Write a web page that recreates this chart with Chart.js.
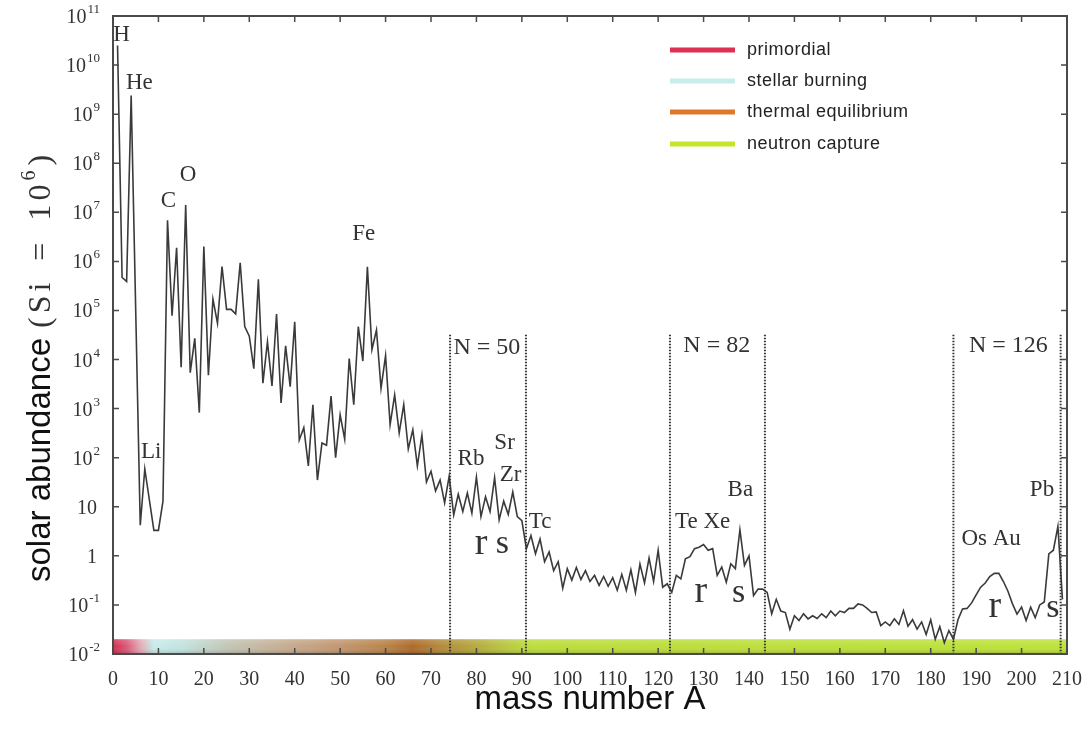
<!DOCTYPE html>
<html>
<head>
<meta charset="utf-8">
<script src="https://cdn.jsdelivr.net/npm/chart.js"></script>
<style>
  body { margin: 0; background: #fff; }
  canvas { display: block; }
</style>
</head>
<body>
<canvas id="myChart" width="1088" height="735"></canvas>
<script>
// mass numbers A (no stable nuclei at A = 5 and A = 8)
var massNumbers = [
  1, 2, 3, 4, 6, 7, 9, 10,
  11, 12, 13, 14, 15, 16, 17, 18, 19, 20,
  21, 22, 23, 24, 25, 26, 27, 28, 29, 30,
  31, 32, 33, 34, 35, 36, 37, 38, 39, 40,
  41, 42, 43, 44, 45, 46, 47, 48, 49, 50,
  51, 52, 53, 54, 55, 56, 57, 58, 59, 60,
  61, 62, 63, 64, 65, 66, 67, 68, 69, 70,
  71, 72, 73, 74, 75, 76, 77, 78, 79, 80,
  81, 82, 83, 84, 85, 86, 87, 88, 89, 90,
  91, 92, 93, 94, 95, 96, 97, 98, 99, 100,
  101, 102, 103, 104, 105, 106, 107, 108, 109, 110,
  111, 112, 113, 114, 115, 116, 117, 118, 119, 120,
  121, 122, 123, 124, 125, 126, 127, 128, 129, 130,
  131, 132, 133, 134, 135, 136, 137, 138, 139, 140,
  141, 142, 143, 144, 145, 146, 147, 148, 149, 150,
  151, 152, 153, 154, 155, 156, 157, 158, 159, 160,
  161, 162, 163, 164, 165, 166, 167, 168, 169, 170,
  171, 172, 173, 174, 175, 176, 177, 178, 179, 180,
  181, 182, 183, 184, 185, 186, 187, 188, 189, 190,
  191, 192, 193, 194, 195, 196, 197, 198, 199, 200,
  201, 202, 203, 204, 205, 206, 207, 208, 209
];

// solar abundance, normalised to Si = 1e6
var abundance = [
  2.5e10, 4.7e5, 3.9e5, 2.4e9, 4.2, 59, 3.3, 3.3,
  13, 6.9e6, 7.8e4, 1.9e6, 7.0e3, 1.4e7, 5.4e3, 2.7e4, 830, 2.0e6,
  4.8e3, 1.7e5, 5.5e4, 7.8e5, 1.05e5, 1.05e5, 8.5e4, 9.4e5, 4.7e4, 3.0e4,
  6.5e3, 4.3e5, 3.3e3, 2.3e4, 2.9e3, 8.5e4, 1.3e3, 1.9e4, 2.8e3, 5.9e4,
  230, 410, 68, 1200, 35, 200, 180, 1800, 100, 750,
  240, 1.05e4, 1200, 4.7e4, 9300, 7.8e5, 1.6e4, 4.0e4, 2600, 1.2e4,
  470, 1900, 320, 1200, 150, 370, 68, 290, 32, 53,
  21, 35, 12, 42, 6.8, 18, 8, 19, 7.4, 40,
  6.3, 16, 8, 39, 5.4, 13, 7, 20, 6.3, 5.2,
  1.4, 2.6, 1.1, 2.2, 0.76, 1.2, 0.5, 0.76, 0.22, 0.55,
  0.32, 0.58, 0.33, 0.5, 0.3, 0.4, 0.25, 0.38, 0.24, 0.36,
  0.2, 0.42, 0.2, 0.52, 0.18, 0.68, 0.28, 0.9, 0.3, 1.3,
  0.23, 0.27, 0.18, 0.40, 0.34, 0.87, 0.96, 1.4, 1.5, 1.7,
  1.3, 1.4, 0.4, 0.59, 0.29, 0.69, 0.55, 3.4, 0.64, 1.0,
  0.155, 0.21, 0.21, 0.18, 0.066, 0.13, 0.075, 0.07, 0.032, 0.06,
  0.048, 0.066, 0.052, 0.06, 0.053, 0.066, 0.055, 0.075, 0.06, 0.075,
  0.07, 0.085, 0.085, 0.105, 0.1, 0.085, 0.07, 0.072, 0.038, 0.045,
  0.038, 0.052, 0.04, 0.076, 0.037, 0.05, 0.032, 0.045, 0.025, 0.05,
  0.02, 0.036, 0.017, 0.03, 0.02, 0.05, 0.083, 0.085, 0.11, 0.16,
  0.23, 0.28, 0.38, 0.44, 0.44, 0.3, 0.19, 0.105, 0.065, 0.09,
  0.048, 0.09, 0.055, 0.1, 0.115, 1.1, 1.3, 4.0, 0.13
];

// axis ticks
var xTicks = [0, 10, 20, 30, 40, 50, 60, 70, 80, 90, 100, 110, 120, 130, 140, 150, 160, 170, 180, 190, 200, 210];
var yExponents = [-2, -1, 0, 1, 2, 3, 4, 5, 6, 7, 8, 9, 10, 11];

// magic neutron number shells (dotted lines, in A)
var shellLines = [74.2, 90.9, 122.6, 143.5, 185.0, 208.6];
var shellTop = 3.2e4;

// legend
var legendLabels = ["primordial", "stellar burning", "thermal equilibrium", "neutron capture"];
var legendColors = ["#de2f55", "#c8eeec", "#dd7a2a", "#c3e52a"];

// process colour band along A
var bandStopsA = [0, 3, 6, 9, 15, 25, 38, 50, 60, 66, 72, 79, 86, 92, 210];
var bandColors = ["#d42c50", "#da5a78", "#e4a8b4", "#c6ecea", "#c2e4e0", "#c2c6b6", "#c6ac90",
                  "#c29670", "#b8844a", "#ae6a2c", "#b28a3c", "#b4a63e", "#b8c642", "#bcdc3c", "#bde23a"];

// element / shell labels: [text, A, value at baseline, font size]
var annotations = [
  ["H", 1.9, Math.pow(10, 10.49), 23],
  ["He", 5.8, Math.pow(10, 9.51), 23],
  ["C", 12.2, Math.pow(10, 7.10), 23],
  ["O", 16.5, Math.pow(10, 7.64), 23],
  ["Li", 8.4, Math.pow(10, 2.0), 23],
  ["Fe", 55.2, Math.pow(10, 6.43), 23],
  ["N = 50", 82.3, Math.pow(10, 4.12), 24],
  ["Rb", 78.8, Math.pow(10, 1.86), 23],
  ["Sr", 86.2, Math.pow(10, 2.18), 23],
  ["Zr", 87.5, Math.pow(10, 1.53), 23],
  ["Tc", 94.0, Math.pow(10, 0.56), 23],
  ["N = 82", 132.9, Math.pow(10, 4.15), 24],
  ["Ba", 138.1, Math.pow(10, 1.21), 23],
  ["Te Xe", 129.8, Math.pow(10, 0.56), 23],
  ["N = 126", 197.1, Math.pow(10, 4.15), 24],
  ["Pb", 204.5, Math.pow(10, 1.21), 23],
  ["Os Au", 193.3, Math.pow(10, 0.23), 23],
  ["r", 81.0, Math.pow(10, 0.03), 38],
  ["s", 85.7, Math.pow(10, 0.05), 34],
  ["r", 129.4, Math.pow(10, -0.94), 38],
  ["s", 137.7, Math.pow(10, -0.94), 34],
  ["r", 194.1, Math.pow(10, -1.25), 38],
  ["s", 206.9, Math.pow(10, -1.25), 34]
];

var points = [];
for (var i = 0; i < massNumbers.length; i++) {
  points.push({ x: massNumbers[i], y: abundance[i] });
}

var SERIF = '"Liberation Serif", "Times New Roman", serif';
var SANS = '"Liberation Sans", Arial, sans-serif';

var decor = {
  id: "decor",
  beforeDatasetsDraw: function(chart) {
    var ctx = chart.ctx;
    var area = chart.chartArea;
    var xs = chart.scales.x;
    var ys = chart.scales.y;
    var top = ys.getPixelForValue(0.02);
    var bottom = area.bottom;

    var g = ctx.createLinearGradient(xs.getPixelForValue(0), 0, xs.getPixelForValue(210), 0);
    for (var i = 0; i < bandStopsA.length; i++) {
      g.addColorStop(bandStopsA[i] / 210, bandColors[i]);
    }
    ctx.save();
    ctx.fillStyle = g;
    ctx.fillRect(area.left, top, area.right - area.left, bottom - top);
    // soft vertical shading
    var v = ctx.createLinearGradient(0, top, 0, bottom);
    v.addColorStop(0, "rgba(255,255,255,0.18)");
    v.addColorStop(0.5, "rgba(255,255,255,0)");
    v.addColorStop(1, "rgba(0,0,0,0.18)");
    ctx.fillStyle = v;
    ctx.fillRect(area.left, top, area.right - area.left, bottom - top);
    ctx.restore();
  },
  afterDatasetsDraw: function(chart) {
    var ctx = chart.ctx;
    var area = chart.chartArea;
    var xs = chart.scales.x;
    var ys = chart.scales.y;
    var i;

    ctx.save();

    // dotted shell lines
    ctx.strokeStyle = "#333";
    ctx.lineWidth = 2;
    ctx.setLineDash([1.5, 1.5]);
    for (i = 0; i < shellLines.length; i++) {
      var px = xs.getPixelForValue(shellLines[i]);
      ctx.beginPath();
      ctx.moveTo(px, ys.getPixelForValue(shellTop));
      ctx.lineTo(px, area.bottom);
      ctx.stroke();
    }
    ctx.setLineDash([]);

    // frame
    ctx.strokeStyle = "#4a4a4a";
    ctx.lineWidth = 2;
    ctx.strokeRect(area.left, area.top, area.right - area.left, area.bottom - area.top);

    // inward ticks
    ctx.lineWidth = 1.5;
    for (i = 0; i < xTicks.length; i++) {
      var tx = xs.getPixelForValue(xTicks[i]);
      ctx.beginPath();
      ctx.moveTo(tx, area.top); ctx.lineTo(tx, area.top + 6);
      ctx.moveTo(tx, area.bottom); ctx.lineTo(tx, area.bottom - 6);
      ctx.stroke();
    }
    for (i = 0; i < yExponents.length; i++) {
      var ty = ys.getPixelForValue(Math.pow(10, yExponents[i]));
      ctx.beginPath();
      ctx.moveTo(area.left, ty); ctx.lineTo(area.left + 6, ty);
      ctx.moveTo(area.right, ty); ctx.lineTo(area.right - 6, ty);
      ctx.stroke();
    }

    // y tick labels with superscripts
    ctx.fillStyle = "#333";
    ctx.textBaseline = "alphabetic";
    ctx.textAlign = "right";
    var rightX = area.left - 13;
    for (i = 0; i < yExponents.length; i++) {
      var e = yExponents[i];
      var y = ys.getPixelForValue(Math.pow(10, e));
      if (e === 0 || e === 1) {
        ctx.font = "20px " + SERIF;
        ctx.fillText(e === 0 ? "1" : "10", rightX - 3, y + 7);
      } else {
        ctx.font = "13px " + SERIF;
        var sup = String(e);
        var sw = ctx.measureText(sup).width;
        ctx.fillText(sup, rightX, y - 3);
        ctx.font = "20px " + SERIF;
        ctx.fillText("10", rightX - sw - 1, y + 7);
      }
    }

    // annotations
    ctx.textAlign = "center";
    for (i = 0; i < annotations.length; i++) {
      var a = annotations[i];
      ctx.font = a[3] + "px " + SERIF;
      ctx.fillText(a[0], xs.getPixelForValue(a[1]), ys.getPixelForValue(a[2]));
    }

    // legend
    ctx.textAlign = "left";
    ctx.textBaseline = "middle";
    ctx.font = "18px " + SANS;
    ctx.letterSpacing = "0.5px";
    var legendY = [50, 81, 112, 144];
    for (i = 0; i < legendLabels.length; i++) {
      ctx.strokeStyle = legendColors[i];
      ctx.lineWidth = 5;
      ctx.beginPath();
      ctx.moveTo(670, legendY[i]);
      ctx.lineTo(735, legendY[i]);
      ctx.stroke();
      ctx.fillStyle = "#222";
      ctx.fillText(legendLabels[i], 747, legendY[i]);
    }
    ctx.letterSpacing = "0px";

    // x title
    ctx.fillStyle = "#111";
    ctx.textAlign = "center";
    ctx.textBaseline = "alphabetic";
    ctx.font = "33px " + SANS;
    ctx.fillText("mass number A", (area.left + area.right) / 2, 709);

    // y title
    ctx.translate(50, 582);
    ctx.rotate(-Math.PI / 2);
    ctx.textAlign = "left";
    ctx.font = "33px " + SANS;
    ctx.fillText("solar abundance", 0, 0);
    var pos = ctx.measureText("solar abundance").width + 10;
    ctx.fillStyle = "#333";
    ctx.font = "32px " + SERIF;
    ctx.letterSpacing = "4px";
    ctx.fillText("(Si", pos, 0);
    pos += ctx.measureText("(Si").width + 18;
    ctx.fillText("=", pos, 0);
    pos += ctx.measureText("=").width + 18;
    ctx.fillText("10", pos, 0);
    pos += ctx.measureText("10").width;
    ctx.font = "20px " + SERIF;
    ctx.fillText("6", pos, -15);
    pos += ctx.measureText("6").width + 1;
    ctx.font = "32px " + SERIF;
    ctx.fillText(")", pos, 0);
    ctx.letterSpacing = "0px";

    ctx.restore();
  }
};

var ctx = document.getElementById("myChart").getContext("2d");

var myChart = new Chart(ctx, {
  type: "line",
  data: {
    datasets: [{
      data: points,
      borderColor: "#3a3a3a",
      borderWidth: 1.6,
      pointRadius: 0,
      tension: 0,
      fill: false
    }]
  },
  options: {
    responsive: false,
    animation: false,
    devicePixelRatio: 1,
    layout: { padding: { top: 16, right: 21, left: 0, bottom: 0 } },
    plugins: {
      legend: { display: false },
      tooltip: { enabled: false }
    },
    scales: {
      x: {
        type: "linear",
        min: 0,
        max: 210,
        afterBuildTicks: function(scale) {
          scale.ticks = xTicks.map(function(v) { return { value: v }; });
        },
        afterFit: function(scale) {
          scale.height = 81;
          scale.paddingLeft = 0;
          scale.paddingRight = 0;
        },
        ticks: {
          autoSkip: false,
          maxRotation: 0,
          padding: 14,
          color: "#333",
          font: { family: "Liberation Serif", size: 20 }
        },
        grid: { display: false, drawTicks: false },
        border: { display: false }
      },
      y: {
        type: "logarithmic",
        min: 0.01,
        max: 1e11,
        afterFit: function(scale) { scale.width = 113; },
        ticks: { display: false },
        grid: { display: false },
        border: { display: false }
      }
    }
  },
  plugins: [decor]
});
</script>
</body>
</html>
